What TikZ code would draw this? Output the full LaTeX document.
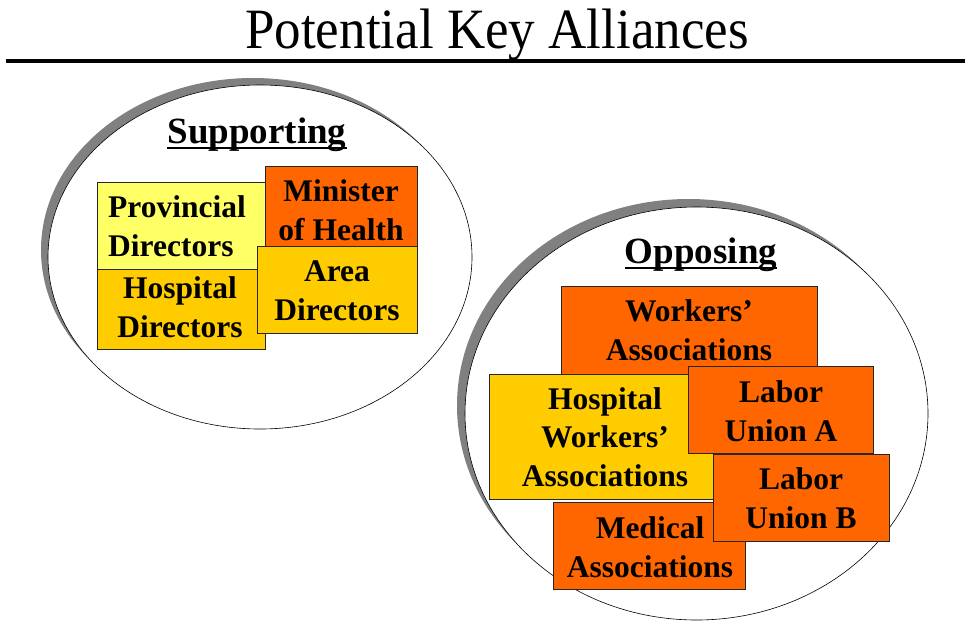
\documentclass[tikz,border=0pt]{standalone}
\usepackage{fontspec}
\setmainfont{Liberation Serif}
\definecolor{paleyellow}{HTML}{FFFF66}
\definecolor{gold}{HTML}{FFCC00}
\definecolor{hotorange}{HTML}{FF6600}
\definecolor{shadowgray}{HTML}{808080}

\begin{document}
\begin{tikzpicture}[
		x=1pt, y=-1pt,
		box/.style={rectangle, draw=black!85, line width=0.8pt, anchor=north west, inner sep=0pt},
		boxtext/.style={align=center, anchor=base, inner sep=0pt, font=\bfseries\fontsize{31.5}{38.5}\selectfont},
		group/.style={anchor=base, inner sep=0pt, font=\bfseries\fontsize{37}{44}\selectfont}
	]
  \useasboundingbox (0,0) rectangle (965,621);

  % title and rule
  \node (title) [anchor=base, inner sep=0pt, xscale=0.93, font=\fontsize{57}{60}\selectfont] at (497,48) {Potential Key Alliances};
  \draw[line width=4pt] (6,61) -- (965,61);

  % ellipses with shadow
  \fill[shadowgray] (253,250) ellipse [x radius=212, y radius=172];
  \draw[fill=white, line width=0.6pt] (260,257) ellipse [x radius=212, y radius=172];
  \fill[shadowgray] (688.5,405.5) ellipse [x radius=231.5, y radius=206.5];
  \draw[fill=white, line width=0.6pt] (696.5,413.5) ellipse [x radius=231.5, y radius=206.5];

  % supporting side (text anchors sit on the last line)
  \node (sup) [group] at (257,143) {Supporting};
  \draw[line width=2.2pt] ([yshift=-5pt]sup.base west) -- ([yshift=-5pt]sup.base east);
  \node (prov) [box, fill=paleyellow, minimum width=168, minimum height=87] at (97,182) {};
  \node (prov_t) [boxtext, align=left, anchor=base west] at (108,256) {Provincial\\Directors};
  \node (minister) [box, fill=hotorange, minimum width=152, minimum height=80] at (265,166) {};
  \node (minister_t) [boxtext] at (341,240) {Minister\\of Health};
  \node (hosp) [box, fill=gold, minimum width=168, minimum height=80] at (97,269) {};
  \node (hosp_t) [boxtext] at (180,337) {Hospital\\Directors};
  \node (area) [box, fill=gold, minimum width=160, minimum height=87] at (257,246) {};
  \node (area_t) [boxtext] at (337,320) {Area\\Directors};

  % opposing side
  \node (opp) [group] at (701,263) {Opposing};
  \draw[line width=2.2pt] ([yshift=-5pt]opp.base west) -- ([yshift=-5pt]opp.base east);
  \node (workers) [box, fill=hotorange, minimum width=256, minimum height=88] at (561,286) {};
  \node (workers_t) [boxtext] at (689,360) {Workers'\\Associations};
  \node (hw) [box, fill=gold, minimum width=224, minimum height=125] at (489,374) {};
  \node (hw_t) [boxtext] at (605,486) {Hospital\\Workers'\\Associations};
  \node (union_a) [box, fill=hotorange, minimum width=185, minimum height=87] at (688,366) {};
  \node (union_a_t) [boxtext] at (781,441) {Labor\\Union A};
  \node (medical) [box, fill=hotorange, minimum width=192, minimum height=87] at (553,502) {};
  \node (medical_t) [boxtext] at (650,577) {Medical\\Associations};
  \node (union_b) [box, fill=hotorange, minimum width=176, minimum height=87] at (713,454) {};
  \node (union_b_t) [boxtext] at (801,528) {Labor\\Union B};
\end{tikzpicture}
\end{document}
